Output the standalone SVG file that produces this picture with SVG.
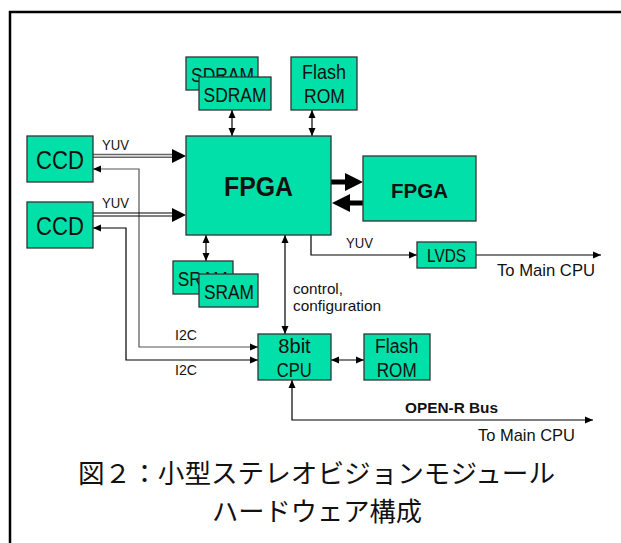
<svg xmlns="http://www.w3.org/2000/svg" width="621" height="543" viewBox="0 0 621 543">
<style>
.box{fill:#00E0A8;stroke:#333;stroke-width:1.3}
.t{font-family:"Liberation Sans",Arial,sans-serif;fill:#111}
.b{font-weight:bold}
.ln{fill:none;stroke:#000;stroke-width:1.2}
.g{stroke:#555}
.jp{font-family:"Noto Sans CJK JP","Noto Sans",sans-serif;fill:#111;font-size:26px}
</style>
<defs>
<marker id="ah" markerUnits="userSpaceOnUse" markerWidth="9" markerHeight="8" refX="8" refY="4" orient="auto-start-reverse"><path d="M0,0.5 L8,4 L0,7.5 z" fill="#000"/></marker>
</defs>
<rect width="621" height="543" fill="#fff"/>
<path d="M10,543 V12 H621" fill="none" stroke="#000" stroke-width="2.5"/>

<g id="connectors">
<line class="ln" x1="232" y1="110" x2="232" y2="136" marker-start="url(#ah)" marker-end="url(#ah)"/>
<line class="ln" x1="312" y1="110" x2="312" y2="136" marker-start="url(#ah)" marker-end="url(#ah)"/>
<line class="ln" x1="206" y1="235" x2="206" y2="261" marker-start="url(#ah)" marker-end="url(#ah)"/>
<line class="ln" x1="285" y1="235" x2="285" y2="334" marker-start="url(#ah)" marker-end="url(#ah)"/>
<line class="ln" x1="331" y1="360" x2="364" y2="360" marker-start="url(#ah)" marker-end="url(#ah)"/>
<path class="ln" d="M311,235 V255 H417" stroke-width="1.6" marker-end="url(#ah)"/>
<path class="ln" d="M476,255 H601" stroke-width="1" marker-end="url(#ah)"/>
<path class="ln" d="M292,380 V420 H593" marker-start="url(#ah)" marker-end="url(#ah)"/>
<path class="ln g" d="M93,169 H139 V347 H258" marker-start="url(#ah)" marker-end="url(#ah)"/>
<path class="ln" d="M93,228 H126 V360 H258" marker-start="url(#ah)" marker-end="url(#ah)"/>
<line x1="93" y1="154.5" x2="173" y2="154.5" stroke="#666" stroke-width="1.5"/>
<line x1="93" y1="157.2" x2="173" y2="157.2" stroke="#666" stroke-width="1.5"/>
<polygon points="172,149 186,156 172,163" fill="#000"/>
<line x1="93" y1="213" x2="173" y2="213" stroke="#000" stroke-width="1.2"/>
<line x1="93" y1="216" x2="173" y2="216" stroke="#000" stroke-width="1.2"/>
<polygon points="172,208 186,215 172,222" fill="#000"/>
<line x1="331" y1="182" x2="346" y2="182" stroke="#000" stroke-width="5"/>
<polygon points="345,173 363,182 345,191" fill="#000"/>
<line x1="349" y1="203" x2="363" y2="203" stroke="#000" stroke-width="5"/>
<polygon points="350,194 332,203 350,212" fill="#000"/>
<text class="t" x="102" y="150" font-size="15" textLength="27" lengthAdjust="spacingAndGlyphs">YUV</text>
<text class="t" x="102" y="208" font-size="15" textLength="27" lengthAdjust="spacingAndGlyphs">YUV</text>
<text class="t" x="346" y="248" font-size="15" textLength="27" lengthAdjust="spacingAndGlyphs">YUV</text>
<text class="t" x="497" y="276" font-size="17" textLength="98" lengthAdjust="spacingAndGlyphs">To Main CPU</text>
<text class="t" x="293" y="294" font-size="15" textLength="50" lengthAdjust="spacingAndGlyphs">control,</text>
<text class="t" x="293" y="310.5" font-size="15" textLength="88" lengthAdjust="spacingAndGlyphs">configuration</text>
<text class="t" x="175" y="340" font-size="15" textLength="22" lengthAdjust="spacingAndGlyphs">I2C</text>
<text class="t" x="175" y="375" font-size="15" textLength="22" lengthAdjust="spacingAndGlyphs">I2C</text>
<text class="t b" x="405" y="413" font-size="14" textLength="93" lengthAdjust="spacingAndGlyphs">OPEN-R Bus</text>
<text class="t" x="478" y="441" font-size="17" textLength="97" lengthAdjust="spacingAndGlyphs">To Main CPU</text>
</g>

<g id="sdram-back"><rect class="box" x="186" y="57" width="72" height="33"/><text class="t" x="191" y="81.7" font-size="21" textLength="63" lengthAdjust="spacingAndGlyphs">SDRAM</text></g>
<g id="sdram-front"><rect class="box" x="199" y="77" width="72" height="33"/><text class="t" x="203.5" y="101.7" font-size="21" textLength="63" lengthAdjust="spacingAndGlyphs">SDRAM</text></g>
<g id="flash-top"><rect class="box" x="291" y="57" width="66" height="53"/><text class="t" x="302" y="79.3" font-size="21" textLength="44" lengthAdjust="spacingAndGlyphs">Flash</text><text class="t" x="304" y="103.3" font-size="21" textLength="41" lengthAdjust="spacingAndGlyphs">ROM</text></g>
<g id="ccd1"><rect class="box" x="27" y="136" width="66" height="46"/><text class="t" x="36" y="169.3" font-size="26" textLength="48" lengthAdjust="spacingAndGlyphs">CCD</text></g>
<g id="ccd2"><rect class="box" x="27" y="202" width="66" height="46"/><text class="t" x="36" y="235.3" font-size="26" textLength="48" lengthAdjust="spacingAndGlyphs">CCD</text></g>
<g id="fpga-main"><rect class="box" x="186" y="136" width="145" height="99"/><text class="t b" x="224" y="196" font-size="27" textLength="69" lengthAdjust="spacingAndGlyphs">FPGA</text></g>
<g id="fpga-2"><rect class="box" x="363" y="156" width="113" height="65"/><text class="t b" x="391" y="197.7" font-size="21" textLength="57" lengthAdjust="spacingAndGlyphs">FPGA</text></g>
<g id="lvds"><rect class="box" x="417" y="242" width="59" height="26"/><text class="t" x="427" y="261.5" font-size="18" textLength="39" lengthAdjust="spacingAndGlyphs">LVDS</text></g>
<g id="sram-back"><rect class="box" x="173" y="261" width="60" height="33"/><text class="t" x="177.7" y="286" font-size="20" textLength="50" lengthAdjust="spacingAndGlyphs">SRAM</text></g>
<g id="sram-front"><rect class="box" x="199" y="274" width="59" height="33"/><text class="t" x="204" y="299" font-size="20" textLength="50" lengthAdjust="spacingAndGlyphs">SRAM</text></g>
<g id="cpu"><rect class="box" x="258" y="334" width="73" height="46"/><text class="t" x="278.3" y="353.3" font-size="20" textLength="32.4" lengthAdjust="spacingAndGlyphs">8bit</text><text class="t" x="276.7" y="376.7" font-size="20" textLength="35" lengthAdjust="spacingAndGlyphs">CPU</text></g>
<g id="flash-bottom"><rect class="box" x="364" y="334" width="66" height="46"/><text class="t" x="375" y="353.3" font-size="20" textLength="43.3" lengthAdjust="spacingAndGlyphs">Flash</text><text class="t" x="376.7" y="376.7" font-size="20" textLength="40" lengthAdjust="spacingAndGlyphs">ROM</text></g>

<g id="title">
<text class="jp" x="78" y="483" textLength="477" lengthAdjust="spacingAndGlyphs">図２：小型ステレオビジョンモジュール</text>
<text class="jp" x="212" y="521" textLength="210" lengthAdjust="spacingAndGlyphs">ハードウェア構成</text>
</g>
</svg>
